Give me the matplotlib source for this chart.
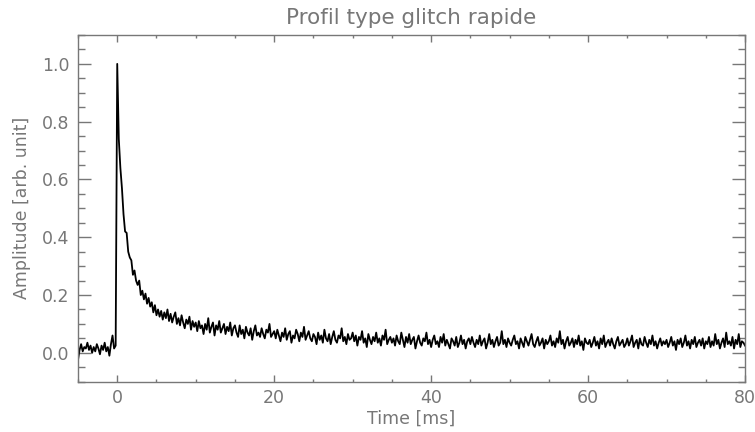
import numpy as np
import matplotlib
matplotlib.use("Agg")
import matplotlib.pyplot as plt
from matplotlib.ticker import MultipleLocator, FormatStrFormatter

# Data (amplitude in thousandths, one sample every 0.2 ms from -5 ms)
t_start = -5.0
t_step = 0.2

amp_pre = [-25, 10, 30, 5, 20, 15, 35, 10, 25, 0, 20, 5, 30, 15, -5,
           25, 10, 35, 5, 20, -10, 30, 60, 15, 25]

amp_peak = [1000, 740, 640, 570, 480, 420, 415, 350, 330, 320,
            270, 285, 250, 235, 250, 200, 215, 185, 205, 170,
            190, 160, 175, 140, 165, 130, 150, 125, 145, 115,
            140, 120, 150, 110, 135, 105, 125, 140, 100, 120,
            95, 130, 105, 85, 115, 100, 125, 80, 110, 90, 105]

amp_tail = [
    75, 110, 85, 95, 65, 100, 80, 120, 70, 90, 105, 60, 95, 80, 110, 70, 85, 100, 65, 90, 75, 105, 60, 85, 95,
    70, 55, 95, 65, 80, 50, 90, 70, 60, 85, 45, 75, 95, 60, 70, 55, 85, 65, 50, 80, 70, 100, 55, 65, 75,
    50, 80, 60, 40, 70, 55, 85, 45, 65, 75, 35, 60, 50, 80, 65, 40, 70, 55, 90, 45, 60, 75, 50, 40, 65,
    55, 30, 70, 45, 60, 35, 80, 50, 40, 65, 30, 55, 75, 45, 35, 60, 50, 85, 40, 55, 30, 65, 45, 50, 70,
    40, 60, 25, 55, 45, 75, 35, 50, 20, 65, 45, 30, 55, 40, 70, 35, 50, 25, 60, 45, 80, 30, 45, 55, 35,
    50, 25, 60, 40, 30, 70, 45, 20, 55, 35, 65, 30, 45, 55, 15, 40, 60, 35, 25, 50, 40, 70, 30, 45, 20,
    45, 60, 30, 40, 20, 55, 35, 65, 25, 45, 30, 15, 50, 40, 25, 55, 20, 35, 60, 30, 45, 15, 40, 50, 30,
    55, 35, 20, 45, 30, 60, 25, 40, 50, 15, 35, 65, 30, 45, 20, 40, 55, 25, 35, 75, 30, 45, 20, 50, 35,
    25, 45, 60, 30, 40, 15, 50, 35, 20, 55, 40, 25, 45, 65, 30, 20, 40, 55, 25, 35, 50, 15, 45, 30, 40,
    60, 25, 40, 20, 50, 35, 75, 30, 45, 15, 40, 55, 25, 35, 50, 20, 45, 30, 60, 25, 40, 10, 50, 35, 30,
    45, 20, 35, 55, 25, 40, 15, 50, 30, 60, 20, 35, 45, 25, 50, 30, 15, 40, 55, 25, 35, 45, 20, 30, 50,
    25, 40, 60, 20, 35, 45, 15, 50, 30, 25, 55, 35, 20, 45, 30, 60, 25, 40, 15, 35, 50, 25, 40, 30, 45,
    20, 35, 55, 25, 40, 10, 45, 30, 50, 20, 35, 60, 25, 40, 15, 45, 30, 55, 20, 35, 45, 25, 50, 15, 40,
    30, 55, 20, 40, 25, 65, 30, 45, 15, 35, 50, 20, 70, 30, 40, 25, 55, 15, 45, 30, 65, 20, 40, 35, 25,
]

amp = np.array(amp_pre + amp_peak + amp_tail) / 1000.0
t = t_start + t_step * np.arange(len(amp))

gray = "#777777"
plt.rcParams["font.family"] = "DejaVu Sans"

fig = plt.figure(figsize=(7.55, 4.32), dpi=100)
ax = fig.add_axes([0.1033, 0.1164, 0.8835, 0.8026])

ax.plot(t, amp, color="black", lw=1.3)

ax.set_xlim(-5, 80)
ax.set_ylim(-0.1, 1.1)
ax.xaxis.set_major_locator(MultipleLocator(20))
ax.xaxis.set_minor_locator(MultipleLocator(5))
ax.yaxis.set_major_locator(MultipleLocator(0.2))
ax.yaxis.set_minor_locator(MultipleLocator(0.05))
ax.yaxis.set_major_formatter(FormatStrFormatter("%.1f"))

for s in ax.spines.values():
    s.set_color(gray)
    s.set_linewidth(1.0)

ax.tick_params(axis="both", which="both", direction="in", top=True, right=True,
               colors=gray, labelcolor=gray, labelsize=12.5, width=1.0)
ax.tick_params(axis="x", which="major", length=5, pad=5)
ax.tick_params(axis="x", which="minor", length=2.5)
ax.tick_params(axis="y", which="major", length=9.6, pad=6)
ax.tick_params(axis="y", which="minor", length=4.8)

ax.set_title("Profil type glitch rapide", color=gray, fontsize=15.5, pad=8)
ax.set_xlabel("Time [ms]", color=gray, fontsize=12.5, labelpad=2)
ax.set_ylabel("Amplitude [arb. unit]", color=gray, fontsize=12.5, labelpad=8)

fig.savefig("out.png", dpi=100)
